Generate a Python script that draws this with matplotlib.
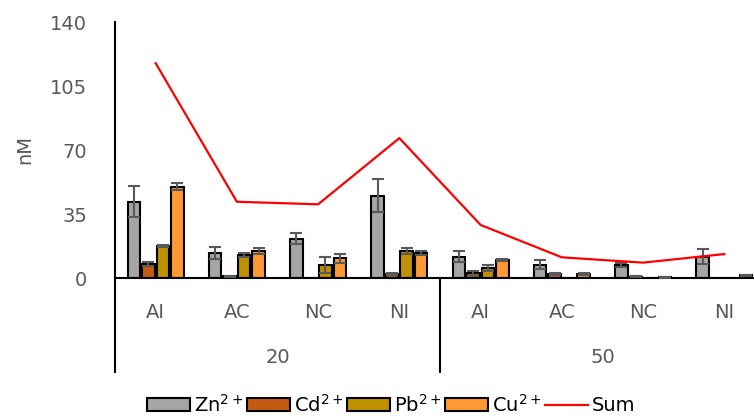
import matplotlib
matplotlib.use("Agg")
import matplotlib.pyplot as plt
import numpy as np
from matplotlib.transforms import blended_transform_factory

# Data (nM)
categories = ["AI", "AC", "NC", "NI", "AI", "AC", "NC", "NI"]
groups = ["20", "50"]
series = ["Zn$^{2+}$", "Cd$^{2+}$", "Pb$^{2+}$", "Cu$^{2+}$"]
zn = [41.7, 13.5, 21.5, 45.0, 11.7, 7.3, 6.9, 11.7]
zn_err = [8.5, 3.3, 2.9, 9.1, 3.1, 2.5, 1.1, 4.0]
cd = [7.5, 1.0, 0.0, 2.2, 2.5, 2.2, 0.7, 0.0]
cd_err = [1.2, 0.3, 0.0, 0.3, 1.5, 0.5, 0.2, 0.0]
pb = [17.3, 12.6, 7.1, 14.8, 5.5, 0.0, 0.0, 0.0]
pb_err = [0.5, 1.0, 4.4, 1.5, 1.8, 0.0, 0.0, 0.0]
cu = [49.9, 14.8, 10.8, 13.7, 9.8, 2.2, 0.4, 1.5]
cu_err = [2.0, 1.5, 2.5, 1.0, 0.7, 0.3, 0.2, 0.3]
total = [117.5, 41.7, 40.3, 76.5, 29.0, 11.3, 8.4, 13.1]

COLORS = ["#A5A5A5", "#C55A11", "#BF9000", "#FF9933"]
GREY = "#595959"

plt.rcParams["font.family"] = ["DejaVu Sans"]
plt.rcParams["font.size"] = 14

fig = plt.figure(figsize=(7.54, 4.16), dpi=100)
ax = fig.add_axes([115 / 754, 138 / 416, 650 / 754, 256 / 416])

x = np.arange(len(categories))
width = 0.154
offsets = [-0.268, -0.089, 0.089, 0.268]
values = [zn, cd, pb, cu]
errors = [zn_err, cd_err, pb_err, cu_err]

handles = []
for i, (vals, errs) in enumerate(zip(values, errors)):
    vals = np.array(vals)
    errs = np.array(errs)
    h = ax.bar(x + offsets[i], vals, width, color=COLORS[i], edgecolor="black",
               linewidth=1.5, label=series[i], zorder=2)
    handles.append(h)
    m = vals > 0
    ax.errorbar(x[m] + offsets[i], vals[m], yerr=errs[m], fmt="none",
                ecolor=GREY, elinewidth=1.5, capsize=4, capthick=1.5, zorder=3)

line, = ax.plot(x, total, color="#FF0000", lw=1.6, label="Sum", zorder=4)
handles.append(line)

ax.set_xlim(-0.5, 7.5)
ax.set_ylim(0, 140)
ax.set_yticks(np.arange(0, 141, 35))
ax.tick_params(axis="y", length=0, pad=20, labelcolor=GREY, labelsize=14)
ax.set_xticks([])
ax.set_ylabel("nM", color=GREY, fontsize=14)
ax.yaxis.set_label_coords(-0.125, 0.5)
for s in ("top", "right"):
    ax.spines[s].set_visible(False)
ax.spines["left"].set_linewidth(1.5)
ax.spines["bottom"].set_linewidth(1.5)

# multi-level category axis
trans = blended_transform_factory(ax.transData, ax.transAxes)
for xi, lab in zip(x, categories):
    ax.text(xi, -0.133, lab, transform=trans, ha="center", va="center",
            color=GREY, fontsize=14)
for gi, g in enumerate(groups):
    ax.text(gi * 4 + 1.5, -0.309, g, transform=trans, ha="center", va="center",
            color=GREY, fontsize=14)
for sx in (-0.5, 3.5, 7.5):
    ax.plot([sx, sx], [0, -0.367], transform=trans, color="black", lw=1.5,
            clip_on=False)

fig.legend(handles=handles, labels=series + ["Sum"], loc="center",
           bbox_to_anchor=(0.519, 0.028), ncol=5, frameon=False, fontsize=14,
           handlelength=2.2, handleheight=0.6, handletextpad=0.2,
           columnspacing=0.2, borderpad=0)

fig.savefig("out.png", dpi=100)
